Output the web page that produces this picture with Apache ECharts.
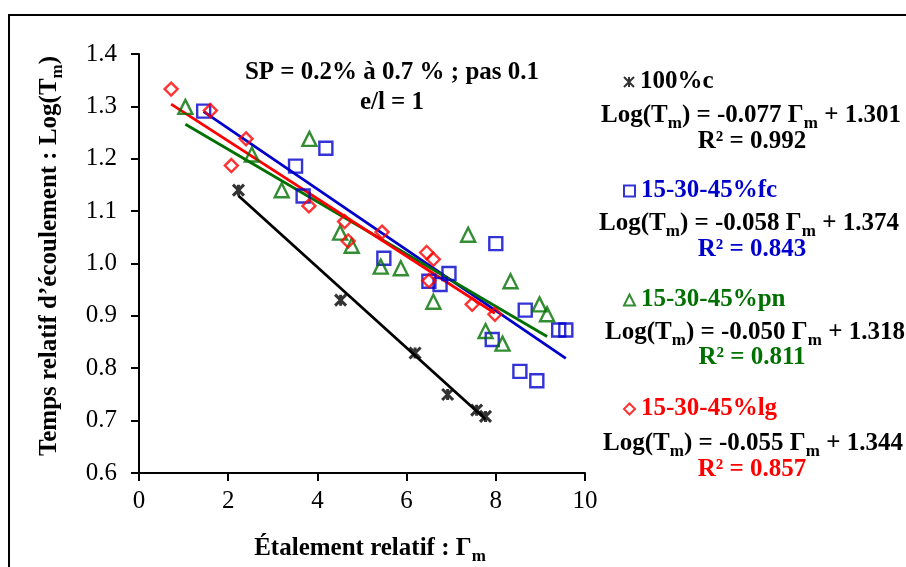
<!DOCTYPE html>
<html>
<head>
<meta charset="utf-8">
<script src="https://cdn.jsdelivr.net/npm/echarts@6/dist/echarts.min.js"></script>
<style>
  html, body { margin: 0; padding: 0; background: #fff; }
  #chart { width: 906px; height: 567px; }
</style>
</head>
<body>
<div id="chart"></div>
<script>
// Relative spread (Γm) vs relative flow time Log(Tm), four mixes
const seriesNames = ['100%c', '15-30-45%fc', '15-30-45%pn', '15-30-45%lg'];
const seriesColors = ['#000000', '#0000cc', '#007000', '#ff0000'];

const gammaC  = [2.23, 4.52, 6.19, 6.92, 7.57, 7.77];
const logTmC  = [1.140, 0.930, 0.829, 0.750, 0.720, 0.708];

const gammaFc = [1.45, 3.51, 4.19, 3.68, 5.49, 8.00, 6.95, 6.50, 6.75, 8.66, 9.41, 9.57, 7.92, 8.54, 8.92];
const logTmFc = [1.291, 1.186, 1.220, 1.129, 1.010, 1.038, 0.981, 0.966, 0.960, 0.911, 0.873, 0.873, 0.855, 0.794, 0.776];

const gammaPn = [1.04, 2.53, 3.20, 3.82, 4.51, 4.77, 5.42, 5.87, 7.38, 8.33, 6.60, 8.98, 9.15, 7.77, 8.15];
const logTmPn = [1.299, 1.208, 1.140, 1.238, 1.059, 1.034, 0.994, 0.991, 1.055, 0.966, 0.927, 0.922, 0.903, 0.871, 0.847];

const gammaLg = [0.72, 1.60, 2.40, 2.07, 3.81, 4.61, 4.69, 5.45, 6.45, 6.60, 6.50, 7.47, 7.98];
const logTmLg = [1.333, 1.292, 1.238, 1.187, 1.110, 1.080, 1.043, 1.060, 1.021, 1.008, 0.967, 0.922, 0.903];

// Linear fits: Log(Tm) = slope * Γm + intercept
const slopes     = [-0.077, -0.058, -0.050, -0.055];
const intercepts = [1.301, 1.374, 1.318, 1.344];
const rSquared   = ['0.992', '0.843', '0.811', '0.857'];

const xTicks = [0, 2, 4, 6, 8, 10];
const yTicks = [0.6, 0.7, 0.8, 0.9, 1.0, 1.1, 1.2, 1.3, 1.4];

const gammaSets = [gammaC, gammaFc, gammaPn, gammaLg];
const logSets   = [logTmC, logTmFc, logTmPn, logTmLg];

const SERIF = '"Liberation Serif", "Times New Roman", serif';
const symbols = [
  'path://M0,0L10,10M0,10L10,0M5,0L5,10',
  'rect',
  'triangle',
  'diamond'
];
const symbolSizes = [11, 13, 14, 13];

const chart = echarts.init(document.getElementById('chart'), null, { renderer: 'canvas' });

const series = [];
// regression lines
seriesNames.forEach((name, i) => {
  const xs = gammaSets[i];
  const x0 = Math.min(...xs), x1 = Math.max(...xs);
  series.push({
    name: name + ' fit',
    type: 'line',
    data: [[x0, slopes[i] * x0 + intercepts[i]], [x1, slopes[i] * x1 + intercepts[i]]],
    symbol: 'none',
    silent: true,
    z: 2,
    lineStyle: { color: seriesColors[i], width: 2.8 }
  });
});
// measured points
seriesNames.forEach((name, i) => {
  series.push({
    name: name,
    type: 'scatter',
    data: gammaSets[i].map((g, k) => [g, logSets[i][k]]),
    symbol: symbols[i],
    symbolSize: symbolSizes[i],
    z: 3,
    itemStyle: { color: 'rgba(255,255,255,0)', borderColor: seriesColors[i], borderWidth: i === 0 ? 3 : 2.4 }
  });
});

function eqText(i) {
  const s = slopes[i].toFixed(3);
  const b = intercepts[i].toFixed(3);
  return '{b|Log(T}{s|m}{b|) = ' + s + ' Γ}{s|m}{b| + ' + b + '}';
}
function richFor(color) {
  return {
    b: { fontFamily: SERIF, fontWeight: 'bold', fontSize: 25, color: color, lineHeight: 32, verticalAlign: 'middle' },
    s: { fontFamily: SERIF, fontWeight: 'bold', fontSize: 17, color: color, lineHeight: 17, verticalAlign: 'bottom' }
  };
}

// legend blocks: name row y, equation y, R² y
const nameY = [77, 186, 295, 404];
const eqY   = [116, 224, 333, 444];
const r2Y   = [142, 250, 358, 470];
const eqX   = [751, 749, 755, 753];

const legends = seriesNames.map((name, i) => ({
  data: [name],
  left: 618,
  top: nameY[i] - 15,
  orient: 'horizontal',
  itemWidth: i === 0 ? 10 : 11,
  itemHeight: i === 0 ? 10 : 11,
  selectedMode: false,
  textStyle: { fontFamily: SERIF, fontWeight: 'bold', fontSize: 25, color: seriesColors[i], lineHeight: 30, padding: [0, 0, 0, 1] }
}));

const graphics = [
  { type: 'rect', shape: { x: 9, y: 15, width: 1000, height: 1000 }, style: { fill: 'none', stroke: '#000', lineWidth: 2 }, silent: true },
  { type: 'text', x: 392, y: 73, style: { text: 'SP = 0.2% à 0.7 % ; pas 0.1', font: 'bold 25px ' + SERIF, fill: '#000', textAlign: 'center', textVerticalAlign: 'middle' } },
  { type: 'text', x: 392, y: 103, style: { text: 'e/l = 1', font: 'bold 25px ' + SERIF, fill: '#000', textAlign: 'center', textVerticalAlign: 'middle' } },
  { type: 'text', x: 370, y: 549, style: { text: '{b|Étalement relatif : Γ}{s|m}', rich: richFor('#000'), textAlign: 'center', textVerticalAlign: 'middle' } },
  { type: 'text', x: 50, y: 256, rotation: Math.PI / 2, style: { text: '{b|Temps relatif d’écoulement : Log(T}{s|m}{b|)}', rich: richFor('#000'), textAlign: 'center', textVerticalAlign: 'middle' } }
];
seriesNames.forEach((name, i) => {
  graphics.push({ type: 'text', x: eqX[i], y: eqY[i], style: { text: eqText(i), rich: richFor(seriesColors[i]), textAlign: 'center', textVerticalAlign: 'middle' } });
  graphics.push({ type: 'text', x: 752, y: r2Y[i], style: { text: 'R² = ' + rSquared[i], font: 'bold 25px ' + SERIF, fill: seriesColors[i], textAlign: 'center', textVerticalAlign: 'middle' } });
});

chart.setOption({
  animation: false,
  backgroundColor: '#fff',
  grid: { left: 139, right: 321, top: 54, bottom: 94, containLabel: false },
  xAxis: {
    type: 'value', min: xTicks[0], max: xTicks[xTicks.length - 1], interval: 2,
    axisLine: { lineStyle: { color: '#000', width: 2 } },
    axisTick: { inside: false, length: 8, lineStyle: { color: '#000', width: 2 } },
    splitLine: { show: false },
    axisLabel: { margin: 16, fontFamily: SERIF, fontSize: 25, color: '#000' }
  },
  yAxis: {
    type: 'value', min: yTicks[0], max: yTicks[yTicks.length - 1], interval: 0.1,
    axisLine: { show: true, lineStyle: { color: '#000', width: 2 } },
    axisTick: { show: true, inside: false, length: 8, lineStyle: { color: '#000', width: 2 } },
    splitLine: { show: false },
    axisLabel: { margin: 22, fontFamily: SERIF, fontSize: 25, color: '#000', formatter: v => v.toFixed(1) }
  },
  legend: legends,
  graphic: graphics,
  series: series
});
</script>
</body>
</html>
